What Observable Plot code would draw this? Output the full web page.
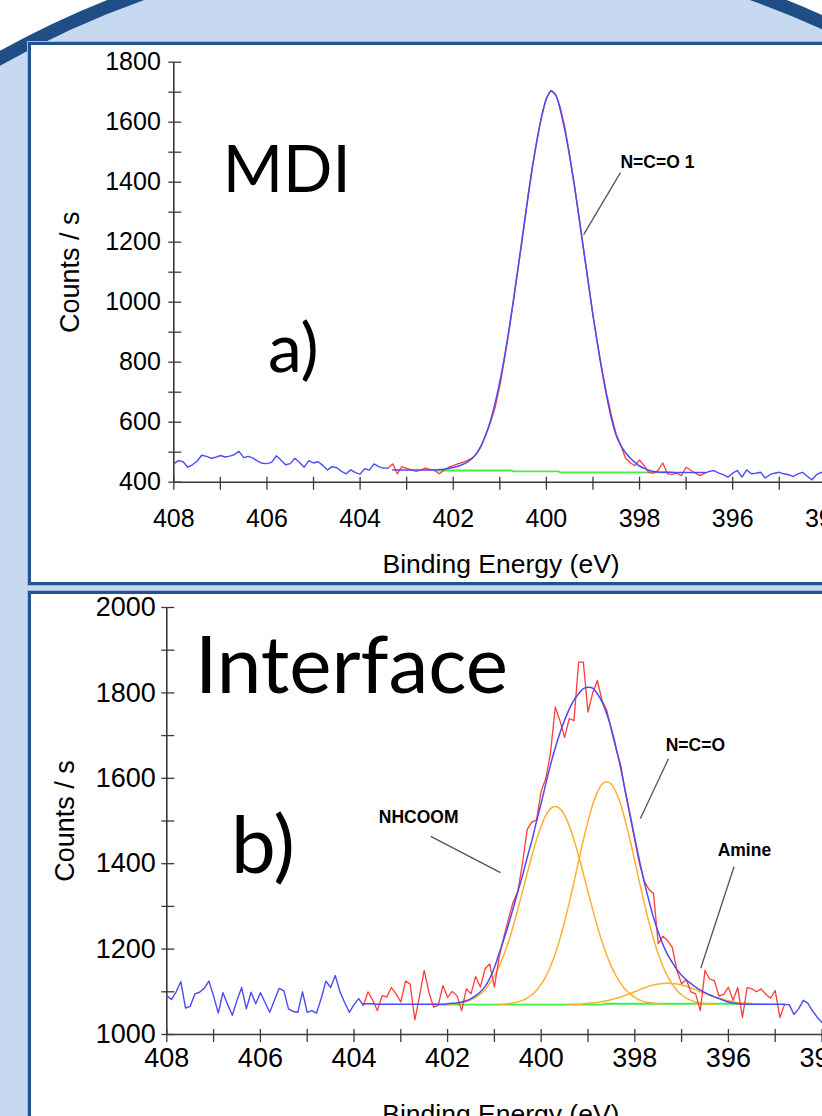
<!DOCTYPE html>
<html><head><meta charset="utf-8">
<script src="https://cdn.jsdelivr.net/npm/d3@7"></script>
<script src="https://cdn.jsdelivr.net/npm/@observablehq/plot@0.6"></script>
<style>
html,body{margin:0;padding:0;}
body{width:822px;height:1116px;overflow:hidden;position:relative;background:#fff;}
#bg{position:absolute;left:0;top:0;}
.panel{position:absolute;left:28px;width:900px;box-sizing:border-box;background:#fff;border:3px solid #24528f;box-shadow:0 0 0 1px #9cbbe0;}
#pa{top:42px;height:543px;}
#pb{top:591px;height:600px;}
.chart{position:absolute;left:0;width:900px;}
#ca{top:0;}
#cb{top:560px;}
</style></head><body>
<svg id="bg" width="822" height="1116">
  <path d="M -10 64 A 913.5 913.5 0 0 1 832 26.6 L 832 1116 L -10 1116 Z" fill="#c6d9f1"/>
  <path d="M -10 64 A 913.5 913.5 0 0 1 832 26.6" fill="none" stroke="#1f4e87" stroke-width="13"/>
</svg>
<div class="panel" id="pa"></div>
<div class="panel" id="pb"></div>
<div class="chart" id="ca"></div>
<div class="chart" id="cb"></div>
<script>
// ---------- DATA ----------
const STEP = 0.1;
// Panel a (MDI): raw spectrum 408.0 -> 393.5 eV
const rawAStart = 408.0;
const rawA = [
 461,472,468,450,458,470,490,486,480,483,
 489,484,487,492,503,482,486,480,470,463,
 462,466,488,474,458,462,480,466,450,472,
 464,468,456,441,452,448,436,428,441,432,
 427,445,440,461,452,447,447,461,428,452,
 446,441,436,440,447,443,439,428,440,450,
 455,461,466,472,480,494,520,560,600,650,
 720,810,905,1012,1120,1230,1346,1452,1540,1622,
 1680,1706,1692,1648,1580,1490,1392,1282,1172,1066,
 955,860,770,690,620,560,522,480,465,455,
 474,455,432,430,440,464,428,426,430,422,
 450,440,430,422,430,436,439,430,425,417,
 430,439,417,441,428,430,433,414,425,430,
 433,428,425,419,428,433,420,408,425,433,
 426,430,420,428,432,425
];
const regionA = [403.4, 396.6];
// Panel a fit envelope 403.3 -> 396.6 eV
const envAStart = 403.3;
const envA = [
 441,441,441,441,441,441,441,441,441,441,
 442,443,446,449,453,459,467,478,496,522,
 558,605,664,735,818,912,1015,1124,1235,1345,
 1450,1543,1620,1678,1704,1690,1640,1570,1485,1390,
 1285,1175,1065,958,858,765,682,610,555,522,
 498,481,466,454,446,440,436,434,433,433,
 433,432,432,432,432,432,432,432
];
const bgAE = [402.4, 400.75, 400.7, 399.75, 399.7, 397.35];
const bgAC = [439, 439, 436, 436, 433, 433];

// Panel b (Interface): raw spectrum 408.0 -> 393.5 eV
const rawBStart = 408.0;
const rawB = [
 1091,1082,1100,1124,1062,1066,1095,1099,1108,1125,
 1090,1050,1098,1070,1045,1080,1110,1060,1099,1072,
 1098,1075,1052,1080,1108,1103,1060,1054,1052,1100,
 1052,1056,1050,1085,1125,1110,1138,1100,1075,1052,
 1070,1084,1068,1100,1080,1056,1091,1088,1110,1095,
 1076,1125,1118,1034,1090,1150,1099,1064,1068,1115,
 1087,1101,1091,1056,1107,1095,1136,1111,1154,1165,
 1111,1180,1228,1270,1310,1335,1400,1480,1498,1502,
 1570,1600,1660,1767,1735,1696,1740,1735,1872,1872,
 1755,1800,1829,1782,1760,1712,1668,1630,1565,1510,
 1455,1400,1360,1340,1330,1213,1230,1220,1204,1150,
 1119,1128,1100,1095,1056,1150,1130,1126,1090,1094,
 1111,1080,1110,1040,1110,1107,1100,1107,1094,1085,
 1103,1040,1070,1070,1047,1060,1080,1073,1055,1040,
 1028,1060,1070,1055,1065,1060
];
const regionB = [403.8, 394.8];
// Panel b fit envelope 403.8 -> 394.8 eV
const envBStart = 403.8;
const envB = [
 1072,1072,1072,1071,1071,1071,1071,1071,1071,1071,
 1071,1071,1071,1071,1071,1071,1071,1071,1072,1073,
 1074,1076,1079,1084,1091,1100,1112,1131,1157,1190,
 1222,1257,1295,1334,1372,1414,1454,1499,1542,1588,
 1632,1671,1706,1736,1762,1783,1798,1810,1813,1811,
 1798,1779,1751,1716,1672,1623,1569,1515,1459,1407,
 1358,1314,1274,1240,1211,1187,1169,1152,1139,1128,
 1119,1111,1104,1098,1093,1088,1084,1080,1076,1074,
 1072,1071,1071,1071,1071,1071,1071,1071,1071,1071,1071
];
// components
const nhStart = 402.0;
const nhcoom = [
 1071,1072,1073,1075,1077,1081,1087,1095,1105,1119,
 1137,1159,1186,1217,1253,1293,1334,1377,1418,1456,
 1488,1513,1529,1534,1529,1513,1488,1456,1418,1377,
 1334,1293,1253,1217,1186,1159,1137,1119,1105,1095,
 1087,1081,1077,1075,1073,1072,1071
];
const ncoStart = 400.9;
const nco = [
 1071,1071,1072,1074,1076,1080,1085,1093,1103,1118,
 1136,1160,1189,1224,1264,1309,1357,1406,1455,1499,
 1538,1567,1586,1592,1586,1567,1538,1499,1455,1406,
 1357,1309,1264,1224,1189,1160,1136,1118,1103,1093,
 1085,1080,1076,1074,1072,1071,1071
];
const amStart = 399.4;
const amine = [
 1070.5,1071,1071,1072,1073,1074,1075,1077,1079,1082,
 1085,1088,1092,1096,1100,1105,1109,1113,1116,1118,
 1119.5,1120,1119.5,1118,1116,1113,1109,1105,1100,1096,
 1092,1088,1085,1082,1079,1077,1075,1074,1073,1072,
 1071,1071,1070.5
];
const bgBE = [402.3, 398.7, 398.65, 395.5];
const bgBC = [1070, 1070, 1072, 1072];

// axes
const xTicks = [408,407,406,405,404,403,402,401,400,399,398,397,396,395,394,393];
const xLabels = [408,406,404,402,400,398,396,394];
const yTicksA = [400,500,600,700,800,900,1000,1100,1200,1300,1400,1500,1600,1700,1800];
const yLabelsA = [400,600,800,1000,1200,1400,1600,1800];
const yTicksB = [1000,1100,1200,1300,1400,1500,1600,1700,1800,1900,2000];
const yLabelsB = [1000,1200,1400,1600,1800,2000];

// annotations (data coordinates)
const titlesA = [{t:"MDI", e:406.95, c:1366}, {t:"a)", e:405.98, c:766}];
const titlesB = [{t:"Interface", e:407.4, c:1799}, {t:"b)", e:406.63, c:1379}];
const notesA = [{t:"N=C=O 1", e:398.41, c:1449}];
const leadA = [{e1:398.41, c1:1432, e2:399.2, c2:1225}];
const notesB = [{t:"NHCOOM", e:403.47, c:1496}, {t:"N=C=O", e:397.34, c:1665}, {t:"Amine", e:396.23, c:1417}];
const leadB = [
  {e1:402.36, c1:1464, e2:400.87, c2:1379},
  {e1:397.28, c1:1646, e2:397.88, c2:1506},
  {e1:395.88, c1:1393, e2:396.59, c2:1155}
];

// ---------- helpers ----------
const series = (start, vals) => vals.map((c, i) => ({e: Math.round((start - i*STEP)*100)/100, c}));
const pairs = (es, cs) => es.map((e, i) => ({e, c: cs[i]}));

const BLUE = "#4b4bf2", RED = "#ff3c3c", GREEN = "#46ee46", ORANGE = "#ffb02e", AX = "#3a3a3a";
const tickFont = "'Liberation Sans', Arial, sans-serif";
const plain = d => String(d);

function panel({raw, rawStart, region, env, envStart, bg, comps, yTicks, yLabels, yDomain,
                width, height, mL, mR, mT, mB, labelPadX, labelPadY, fs, titles, titleSizes,
                notes, leads, cdx, bdx, bdy}) {
  const R = series(rawStart, raw);
  const left = R.filter(d => d.e >= region[0]);
  const mid = R.filter(d => d.e <= region[0] && d.e >= region[1]);
  const right = R.filter(d => d.e <= region[1]);
  const E = series(envStart, env);
  const marks = [
    Plot.ruleX([408], {stroke: AX, strokeWidth: 1.6}),
    Plot.ruleY([yDomain[0]], {stroke: AX, strokeWidth: 1.6}),
    Plot.axisY(yTicks, {tickSize: 13, dx: 8, tickFormat: () => "", stroke: AX, strokeWidth: 1.3, label: null}),
    Plot.axisY(yLabels, {tickSize: 0, tickPadding: labelPadY, fontSize: fs, tickFormat: plain, label: null}),
    Plot.axisX(xTicks, {tickSize: 13, dy: -5, tickFormat: () => "", stroke: AX, strokeWidth: 1.3, label: null}),
    Plot.axisX(xLabels, {tickSize: 0, tickPadding: labelPadX, fontSize: fs, tickFormat: plain, label: null}),
    Plot.line(bg, {x: "e", y: "c", stroke: GREEN, strokeWidth: 1.8}),
    ...comps.map(cm => Plot.line(cm, {x: "e", y: "c", stroke: ORANGE, strokeWidth: 1.5, curve: "catmull-rom"})),
    Plot.line(mid, {x: "e", y: "c", stroke: RED, strokeWidth: 1.3}),
    Plot.line(E, {x: "e", y: "c", stroke: BLUE, strokeWidth: 1.5, curve: "catmull-rom"}),
    Plot.line(left, {x: "e", y: "c", stroke: BLUE, strokeWidth: 1.4}),
    Plot.line(right, {x: "e", y: "c", stroke: BLUE, strokeWidth: 1.4}),
    Plot.link(leads, {x1: "e1", y1: "c1", x2: "e2", y2: "c2", stroke: "#555", strokeWidth: 1.3}),
    Plot.text(notes, {x: "e", y: "c", text: "t", textAnchor: "start", lineAnchor: "bottom",
      fontWeight: "bold", fontSize: 17.5, fontFamily: "'Liberation Sans', Arial, sans-serif"}),
    Plot.text([titles[0]], {x: "e", y: "c", text: "t", textAnchor: "start", lineAnchor: "bottom",
      fontSize: titleSizes[0], fontFamily: "Lato, 'Open Sans', sans-serif"}),
    Plot.text([titles[1]], {x: "e", y: "c", text: "t", textAnchor: "start", lineAnchor: "bottom",
      fontSize: titleSizes[1], fontFamily: "Lato, 'Open Sans', sans-serif"}),
    Plot.text(["Counts / s"], {frameAnchor: "left", dx: cdx, rotate: -90, fontSize: 27,
      textAnchor: "middle", lineAnchor: "middle"}),
    Plot.text(["Binding Energy (eV)"], {frameAnchor: "bottom", dx: bdx, dy: bdy,
      textAnchor: "middle", lineAnchor: "bottom", fontSize: 26.5})
  ];
  return Plot.plot({
    width, height, marginLeft: mL, marginRight: mR, marginTop: mT, marginBottom: mB,
    x: {domain: [408, 393], label: null},
    y: {domain: yDomain, label: null},
    style: {fontFamily: tickFont, fontSize: "25px", background: "transparent", maxWidth: "none", overflow: "visible", color: "#000"},
    marks
  });
}

const chartA = panel({
  raw: rawA, rawStart: rawAStart, region: regionA, env: envA, envStart: envAStart,
  bg: pairs(bgAE, bgAC), comps: [],
  yTicks: yTicksA, yLabels: yLabelsA, yDomain: [400, 1800],
  width: 900, height: 600, mL: 173.3, mR: 28.1, mT: 61.7, mB: 118.3,
  labelPadX: 27, labelPadY: 13, fs: 25,
  titles: titlesA, titleSizes: [65, 68], notes: notesA, leads: leadA,
  cdx: -103, bdx: -22, bdy: 91
});
document.getElementById("ca").appendChild(chartA);

const chartB = panel({
  raw: rawB, rawStart: rawBStart, region: regionB, env: envB, envStart: envBStart,
  bg: pairs(bgBE, bgBC),
  comps: [series(nhStart, nhcoom), series(ncoStart, nco), series(amStart, amine)],
  yTicks: yTicksB, yLabels: yLabelsB, yDomain: [1000, 2000],
  width: 900, height: 600, mL: 166.3, mR: 31.7, mT: 47, mB: 126,
  labelPadX: 13, labelPadY: 11, fs: 27,
  titles: titlesB, titleSizes: [80, 80], notes: notesB, leads: leadB,
  cdx: -101, bdx: -17, bdy: 88
});
document.getElementById("cb").appendChild(chartB);
</script>
</body></html>
